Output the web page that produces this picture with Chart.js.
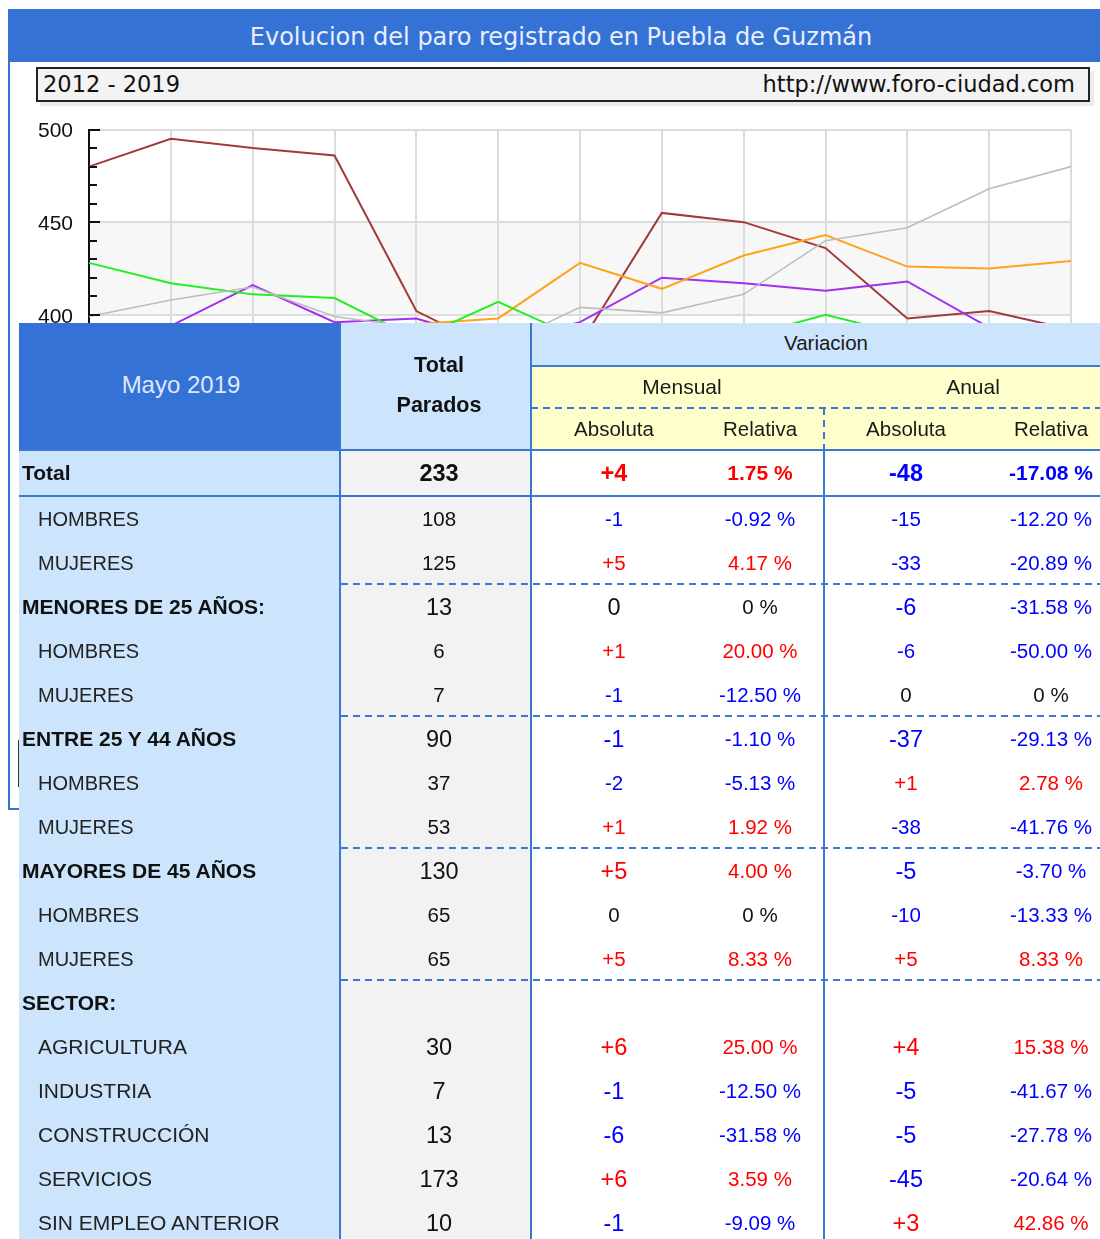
<!DOCTYPE html>
<html>
<head>
<meta charset="utf-8">
<script src="https://cdn.jsdelivr.net/npm/chart.js@4.4.0/dist/chart.umd.min.js"></script>
<style>
html,body{margin:0;padding:0;background:#fff;}
body{width:1100px;height:1239px;overflow:hidden;position:relative;font-family:"Liberation Sans",Arial,sans-serif;}
.abs{position:absolute;}
#frame{left:8px;top:9px;width:1104px;height:797px;border:2px solid #3572d6;box-sizing:content-box;background:#fff;}
#titleBar{left:8px;top:9px;width:1106px;height:53px;background:#3572d6;color:#e8eefb;font-family:"DejaVu Sans",sans-serif;font-size:24px;text-align:center;line-height:56px;}
#subBox{left:36px;top:67px;width:1050px;height:31px;border:2px solid #222;background:#f3f3f3;box-shadow:4px 4px 0 #ececec;font-family:"DejaVu Sans",sans-serif;font-size:22.5px;line-height:31px;color:#111;}
#subBox .l{position:absolute;left:5px;top:0;}
#subBox .r{position:absolute;right:13px;top:0;}
#legendBox{left:18px;top:740px;width:700px;height:45px;border:1px solid #333;}
#chartWrap{left:10px;top:101px;width:1080px;height:700px;}
</style>
</head>
<body>
<div id="frame" class="abs"></div>
<div id="titleBar" class="abs">Evolucion del paro registrado en Puebla de Guzmán</div>
<div id="subBox" class="abs"><span class="l">2012 - 2019</span><span class="r">http://www.foro-ciudad.com</span></div>
<div id="legendBox" class="abs"></div>
<div id="chartWrap" class="abs"><canvas id="chart" width="1080" height="700"></canvas></div>
<div id="tabla"></div>
<script>
// ================= DATA =================
const meses = ["Ene","Feb","Mar","Abr","May","Jun","Jul","Ago","Sep","Oct","Nov","Dic","Ene"];
const serieGranate = [480, 495, 490, 486, 402, 380, 384, 455, 450, 436, 398, 402, 392];
const serieGris    = [399, 408, 415, 399, 393, 383, 404, 401, 411, 440, 447, 468, 480];
const serieVerde   = [428, 417, 411, 409, 387, 407, 387, 386, 388, 400, 389, 385, 383];
const serieNaranja = [380, 384, 388, 390, 395, 398, 428, 414, 432, 443, 426, 425, 429];
const serieMorada  = [385, 394, 416, 396, 398, 385, 396, 420, 417, 413, 418, 393, 380];
const yMin = 200, yMax = 500, yPaso = 10, yEtiqueta = 50;

// table rows: etiqueta, total, mensual abs, mensual rel, anual abs, anual rel, tipo
const filas = [
["Total","233","+4","1.75 %","-48","-17.08 %","total"],
["HOMBRES","108","-1","-0.92 %","-15","-12.20 %","sub"],
["MUJERES","125","+5","4.17 %","-33","-20.89 %","sub"],
["MENORES DE 25 AÑOS:","13","0","0 %","-6","-31.58 %","grupo"],
["HOMBRES","6","+1","20.00 %","-6","-50.00 %","sub"],
["MUJERES","7","-1","-12.50 %","0","0 %","sub"],
["ENTRE 25 Y 44 AÑOS","90","-1","-1.10 %","-37","-29.13 %","grupo"],
["HOMBRES","37","-2","-5.13 %","+1","2.78 %","sub"],
["MUJERES","53","+1","1.92 %","-38","-41.76 %","sub"],
["MAYORES DE 45 AÑOS","130","+5","4.00 %","-5","-3.70 %","grupo"],
["HOMBRES","65","0","0 %","-10","-13.33 %","sub"],
["MUJERES","65","+5","8.33 %","+5","8.33 %","sub"],
["SECTOR:","","","","","","cab"],
["AGRICULTURA","30","+6","25.00 %","+4","15.38 %","sector"],
["INDUSTRIA","7","-1","-12.50 %","-5","-41.67 %","sector"],
["CONSTRUCCIÓN","13","-6","-31.58 %","-5","-27.78 %","sector"],
["SERVICIOS","173","+6","3.59 %","-45","-20.64 %","sector"],
["SIN EMPLEO ANTERIOR","10","-1","-9.09 %","+3","42.86 %","sector"]
];

// ================= CHART =================
Chart.defaults.font.family = "DejaVu Sans";

// alternating background bands every 50
const bandas = {
id:"bandas",
beforeDraw(chart){
let {ctx,chartArea,scales}=chart;
let y=scales.y;
ctx.save();
ctx.fillStyle="#f7f7f7";
for(let v=yMin; v<yMax; v+=yEtiqueta){
if((v/yEtiqueta)%2===0){
let t=y.getPixelForValue(v+yEtiqueta), b=y.getPixelForValue(v);
ctx.fillRect(chartArea.left,t,chartArea.right-chartArea.left,b-t);
}
}
ctx.restore();
}
};

// tick marks pointing into the plot
const marcas = {
id:"marcas",
afterDraw(chart){
let {ctx,chartArea,scales}=chart;
let y=scales.y;
ctx.save();
ctx.strokeStyle="#111";
ctx.lineWidth=2;
y.ticks.forEach(t=>{
let py=Math.round(y.getPixelForValue(t.value));
let len = t.value%yEtiqueta===0 ? 11 : 8;
ctx.beginPath();
ctx.moveTo(chartArea.left,py);
ctx.lineTo(chartArea.left+len,py);
ctx.stroke();
});
ctx.restore();
}
};

function linea(data,color,w){
return {data:data,borderColor:color,borderWidth:w,pointRadius:0,tension:0,fill:false};
}

new Chart(document.getElementById("chart").getContext("2d"),{
type:"line",
data:{
labels:meses,
datasets:[
linea(serieGris,"#bdbdbd",1.6),
linea(serieVerde,"#22ee22",2),
linea(serieNaranja,"#ffa41a",2),
linea(serieMorada,"#a030f0",2),
linea(serieGranate,"#a33a3a",2)
]
},
options:{
responsive:false,
animation:false,
devicePixelRatio:1,
layout:{padding:{left:0,top:20,right:19,bottom:76}},
plugins:{legend:{display:false},tooltip:{enabled:false}},
scales:{
x:{
offset:false,
grid:{color:"#dcdcdc",lineWidth:2,drawTicks:false},
border:{display:false},
ticks:{color:"#111",font:{size:11},padding:8,maxRotation:0},
afterFit(s){s.height=40;}
},
y:{
min:yMin,max:yMax,
grid:{
color:c=>(c.tick && c.tick.value%yEtiqueta===0)?"#dcdcdc":"rgba(0,0,0,0)",
lineWidth:2,
drawTicks:false
},
border:{display:true,color:"#111",width:2},
ticks:{
stepSize:yPaso,
autoSkip:false,
padding:16,
labelOffset:2,
color:"#111",
font:{family:"Liberation Sans",size:21},
callback:v=>v%yEtiqueta===0?v:""
},
afterFit(s){s.width=79;}
}
}
},
plugins:[bandas,marcas]
});

// ================= TABLE =================
const tabla=document.getElementById("tabla");
const azul="#3a78d8";
const FONT='"Liberation Sans",Arial,sans-serif';

function caja(x,y,w,h,css){
let d=document.createElement("div");
d.style.cssText=`position:absolute;left:${x}px;top:${y}px;width:${w}px;height:${h}px;${css||""}`;
tabla.appendChild(d);
return d;
}
function texto(cx,cy,s,css){
let d=caja(cx-150,cy-16,300,32,`text-align:center;line-height:32px;white-space:nowrap;font-family:${FONT};${css}`);
d.textContent=s;
return d;
}
function izq(x,cy,s,css){
let d=caja(x,cy-16,320,32,`line-height:32px;white-space:nowrap;font-family:${FONT};${css}`);
d.textContent=s;
return d;
}
function hSolida(x,y,w){caja(x,y-1,w,2,`background:${azul}`);}
function vSolida(x,y,h){caja(x-1,y,2,h,`background:${azul}`);}
function hRayada(x,y,w){caja(x,y-1,w,2,`background:repeating-linear-gradient(to right,${azul} 0 7px,transparent 7px 12px)`);}
function vRayada(x,y,h){caja(x-1,y,2,h,`background:repeating-linear-gradient(to bottom,${azul} 0 7px,transparent 7px 12px)`);}

// backgrounds
caja(19,323,321,127,"background:#3572d6");
caja(340,323,191,127,"background:#cce5fc");
caja(531,323,600,43,"background:#cce5fc");
caja(531,366,600,84,"background:#ffffcc");
caja(19,450,321,800,"background:#cce5fc");
caja(340,450,191,800,"background:#f2f2f2");
caja(531,450,600,800,"background:#fff");

// lines
vSolida(340,323,920);
vSolida(531,323,920);
vSolida(824,450,800);
vRayada(824,408,42);
hSolida(531,366,600);
hRayada(531,408,600);
hSolida(19,450,1100);
hSolida(19,496,1100);
[584,716,848,980].forEach(y=>hRayada(341,y,800));

// header text
texto(181,385,"Mayo 2019","font-size:24px;color:#dde8fb;");
texto(439,365,"Total","font-size:21.5px;font-weight:bold;color:#111;");
texto(439,405,"Parados","font-size:21.5px;font-weight:bold;color:#111;");
texto(826,343,"Variacion","font-size:20.5px;color:#1a1a1a;");
texto(682,387,"Mensual","font-size:21px;color:#1a1a1a;");
texto(973,387,"Anual","font-size:21px;color:#1a1a1a;");
texto(614,429,"Absoluta","font-size:20.5px;color:#1a1a1a;");
texto(760,429,"Relativa","font-size:20.5px;color:#1a1a1a;");
texto(906,429,"Absoluta","font-size:20.5px;color:#1a1a1a;");
texto(1051,429,"Relativa","font-size:20.5px;color:#1a1a1a;");

function colorDe(s){
if(s.startsWith("-")) return "#0000ff";
if(s==="0"||s==="0 %") return "#111";
return "#ff0000";
}

const centros=[439,614,760,906,1051];
filas.forEach((f,i)=>{
let cy = i===0 ? 473 : 519 + (i-1)*44;
let tipo=f[6];
let grande = tipo!=="sub";
let negrita = tipo==="total";
let labelCss = (tipo==="total"||tipo==="grupo"||tipo==="cab")
? "font-size:21px;font-weight:bold;color:#111;"
: "font-size:"+(tipo==="sector"?21:20)+"px;color:#222;";
izq((tipo==="sub"||tipo==="sector")?38:22,cy,f[0],labelCss);
for(let k=1;k<=5;k++){
if(!f[k]) continue;
let rel = (k===3||k===5);
let size = grande ? (rel ? (negrita?21:20.5) : 23.5) : 20.5;
let color = k===1 ? "#111" : colorDe(f[k]);
texto(centros[k-1],cy,f[k],`font-size:${size}px;color:${color};${negrita?"font-weight:bold;":""}`);
}
});
</script>
</body>
</html>
